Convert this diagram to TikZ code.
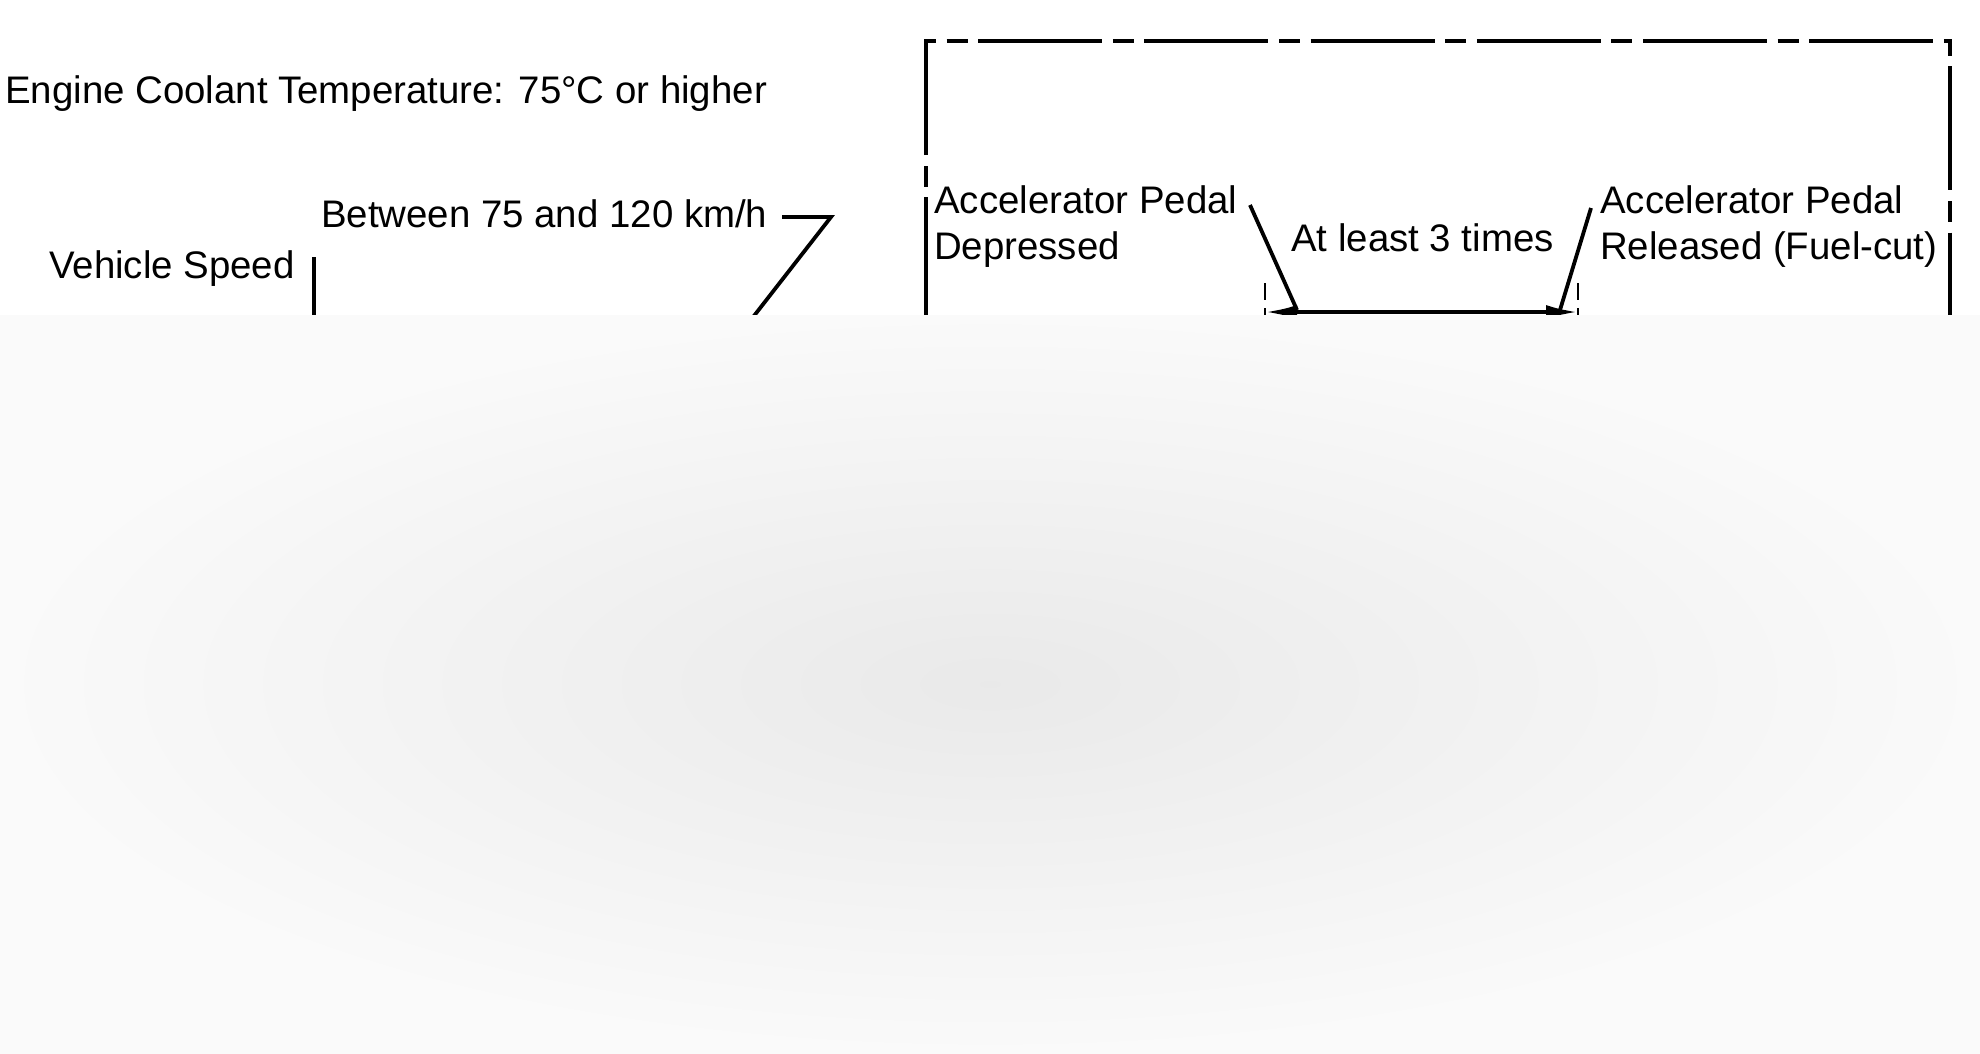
\documentclass[tikz,border=0pt]{standalone}
\usepackage{fontspec}
\setmainfont{Liberation Sans}
\usetikzlibrary{arrows.meta}
\begin{document}
\begin{tikzpicture}[x=1pt,y=-1pt,
  lbl/.style={anchor=base west, inner sep=0pt, font=\fontsize{38.4}{46}\selectfont},
  ln/.style={line width=3.8pt, line cap=butt},
  frame/.style={line width=4pt, line join=miter, dash pattern=on 124pt off 10.6pt on 21pt off 10.6pt},
  tickln/.style={line width=2.4pt, dash pattern=on 17pt off 8pt},
  veil/.style={inner color=gray!17, outer color=gray!4}
]
\useasboundingbox (0,0) rectangle (1980,1053);
\fill[white] (0,0) rectangle (1980,1053);

% texts
\node[lbl] (ect) at (5,103) {Engine Coolant Temperature: 75°C or higher};
\node[lbl] (btw) at (321,227) {Between 75 and 120 km/h};
\node[lbl] (vsp) at (49,278) {Vehicle Speed};
\node[lbl] (dep1) at (934,213) {Accelerator Pedal};
\node[lbl] (dep2) at (934,259) {Depressed};
\node[lbl] (atl) at (1291,251) {At least 3 times};
\node[lbl] (rel1) at (1600,213) {Accelerator Pedal};
\node[lbl] (rel2) at (1600,259) {Released (Fuel-cut)};

% frame (dash-dot)
\coordinate (fBL) at (926,340);
\coordinate (fTL) at (926,41);
\coordinate (fTR) at (1950,41);
\coordinate (fBR) at (1950,340);
\draw[frame, dash phase=147.4pt] (fBL) -- (fTL) -- (fTR) -- (fBR);

% vehicle speed lines
\coordinate (vs1) at (314,257);
\coordinate (vs2) at (314,340);
\draw[ln] (vs1) -- (vs2);
\coordinate (z1) at (782,217);
\coordinate (z2) at (831,217);
\coordinate (z3) at (743,330);
\draw[ln, line join=miter] (z1) -- (z2) -- (z3);

% dimension: at least 3 times
\coordinate (t1a) at (1265,283);
\coordinate (t1b) at (1265,335);
\coordinate (t2a) at (1578,283);
\coordinate (t2b) at (1578,335);
\draw[tickln] (t1a) -- (t1b);
\draw[tickln] (t2a) -- (t2b);
\coordinate (d1) at (1265,312);
\coordinate (d2) at (1578,312);
\draw[ln, {Latex[length=32pt,width=14pt]}-{Latex[length=32pt,width=14pt]}] (d1) -- (d2);
\coordinate (l1a) at (1250,205);
\coordinate (l1b) at (1297,310);
\coordinate (l2a) at (1591,208);
\coordinate (l2b) at (1560,310);
\draw[ln] (l1a) -- (l1b);
\draw[ln] (l2a) -- (l2b);

% blurred lower region
\shade[veil] (0,315) rectangle (1980,1053);
\end{tikzpicture}
\end{document}
